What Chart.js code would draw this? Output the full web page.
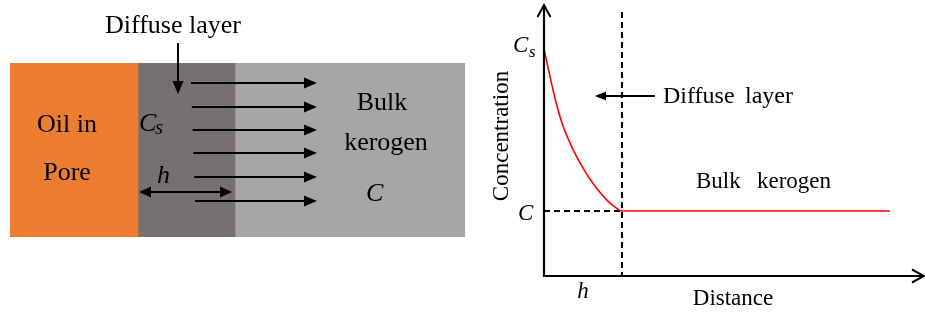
<!DOCTYPE html>
<html><head><meta charset="utf-8">
<script src="https://cdn.jsdelivr.net/npm/chart.js@4"></script>
<style>
html,body{margin:0;padding:0;background:#fff;width:925px;height:314px;overflow:hidden}
#wrapL{position:absolute;left:0;top:0;width:475px;height:314px}
#wrapR{position:absolute;left:475px;top:0;width:450px;height:314px}
</style></head><body>
<div id="wrapL"><canvas id="left"></canvas></div>
<div id="wrapR"><canvas id="right"></canvas></div>
<script>
// ---- data ----
const zoneNames = ['Oil in Pore', 'Diffuse layer', 'Bulk kerogen'];
const zoneWidths = [128, 97, 230];
const zoneColors = ['#ED7D31', '#767171', '#A6A6A6'];
const distance = [0, 0.08, 0.15, 0.24, 0.37, 0.53, 0.68, 0.82, 0.92, 1.0, 1.2, 4.44];
const concentration = [3.49, 3.05, 2.69, 2.32, 1.95, 1.6, 1.34, 1.15, 1.05, 1.0, 1.0, 1.0];
const hValue = 1.0;
const cValue = 1.0;
const csValue = 3.49;
const xMax = 4.85;
const yMax = 4.12;

const SERIF = '"Liberation Serif", "Times New Roman", serif';

function head(ctx, x, y, ang, len, half) {
  ctx.save();
  ctx.translate(x, y); ctx.rotate(ang);
  ctx.beginPath();
  ctx.moveTo(0, 0); ctx.lineTo(-len, -half); ctx.lineTo(-len, half); ctx.closePath();
  ctx.fill();
  ctx.restore();
}
function arrow(ctx, x0, y0, x1, y1, len, half, both) {
  const ang = Math.atan2(y1 - y0, x1 - x0);
  const dx = Math.cos(ang) * len * 0.8, dy = Math.sin(ang) * len * 0.8;
  ctx.beginPath();
  ctx.moveTo(both ? x0 + dx : x0, both ? y0 + dy : y0);
  ctx.lineTo(x1 - dx, y1 - dy);
  ctx.stroke();
  head(ctx, x1, y1, ang, len, half);
  if (both) head(ctx, x0, y0, ang + Math.PI, len, half);
}
function text(ctx, s, x, y, font, align) {
  ctx.font = font; ctx.textAlign = align || 'left'; ctx.textBaseline = 'alphabetic';
  ctx.fillText(s, x, y);
}

// ---- left schematic ----
const leftPlugin = {
  id: 'leftAnno',
  afterDraw(chart) {
    const ctx = chart.ctx, xs = chart.scales.x;
    const b1 = xs.getPixelForValue(zoneWidths[0]);
    const b2 = xs.getPixelForValue(zoneWidths[0] + zoneWidths[1]);
    ctx.save();
    ctx.fillStyle = '#000'; ctx.strokeStyle = '#000'; ctx.lineWidth = 2;
    text(ctx, 'Diffuse layer', 173, 33, '26px ' + SERIF, 'center');
    arrow(ctx, 178, 43, 178, 94, 13, 5.5);
    const ys = [83, 107, 130, 153, 177, 201];
    ys.forEach((y, i) => arrow(ctx, 191 + i * 0.8, y, 317, y, 13, 5.5));
    arrow(ctx, b1 + 1, 192, b2 - 3, 192, 12, 5.5, true);
    text(ctx, 'Oil in', 67, 132, '26px ' + SERIF, 'center');
    text(ctx, 'Pore', 67, 180, '26px ' + SERIF, 'center');
    text(ctx, 'C', 139, 131, 'italic 26px ' + SERIF);
    text(ctx, 's', 155, 134, 'italic 21px ' + SERIF);
    text(ctx, 'h', 157, 183, 'italic 26px ' + SERIF);
    text(ctx, 'Bulk', 382, 110, '26px ' + SERIF, 'center');
    text(ctx, 'kerogen', 386, 150, '26px ' + SERIF, 'center');
    text(ctx, 'C', 366, 201, 'italic 26px ' + SERIF);
    ctx.restore();
  }
};

new Chart(document.getElementById('left'), {
  type: 'bar',
  data: {
    labels: ['zones'],
    datasets: zoneNames.map((n, i) => ({
      label: n, data: [zoneWidths[i]], backgroundColor: zoneColors[i],
      borderWidth: 0, barPercentage: 1, categoryPercentage: 1
    }))
  },
  options: {
    indexAxis: 'y', responsive: true, maintainAspectRatio: false, animation: false,
    layout: { padding: { left: 10, right: 10, top: 63, bottom: 77 } },
    scales: {
      x: { stacked: true, display: false, min: 0, max: zoneWidths.reduce((a, b) => a + b, 0) },
      y: { stacked: true, display: false }
    },
    plugins: { legend: { display: false }, tooltip: { enabled: false } }
  },
  plugins: [leftPlugin]
});

// ---- right profile ----
const rightPlugin = {
  id: 'rightAnno',
  beforeDatasetsDraw(chart) {
    const ctx = chart.ctx, xs = chart.scales.x, ys = chart.scales.y, ca = chart.chartArea;
    const hx = xs.getPixelForValue(hValue), cy = ys.getPixelForValue(cValue);
    ctx.save();
    ctx.strokeStyle = '#000'; ctx.lineWidth = 2; ctx.setLineDash([6, 4]);
    ctx.beginPath(); ctx.moveTo(hx, ca.top + 4); ctx.lineTo(hx, ca.bottom); ctx.stroke();
    ctx.beginPath(); ctx.moveTo(ca.left, cy); ctx.lineTo(hx, cy); ctx.stroke();
    ctx.restore();
  },
  afterDatasetsDraw(chart) {
    const ctx = chart.ctx, xs = chart.scales.x, ys = chart.scales.y, ca = chart.chartArea;
    const x0 = ca.left, y0 = ca.bottom;
    ctx.save();
    ctx.strokeStyle = '#000'; ctx.fillStyle = '#000'; ctx.lineWidth = 2.2; ctx.lineCap = 'butt';
    // axes
    ctx.beginPath(); ctx.moveTo(x0, y0 + 1); ctx.lineTo(x0, ca.top - 3); ctx.stroke();
    ctx.beginPath(); ctx.moveTo(x0 - 1, y0); ctx.lineTo(ca.right + 2, y0); ctx.stroke();
    ctx.lineWidth = 2;
    ctx.beginPath(); ctx.moveTo(x0 - 6.5, ca.top + 9); ctx.lineTo(x0, ca.top - 3); ctx.lineTo(x0 + 6.5, ca.top + 9); ctx.stroke();
    ctx.beginPath(); ctx.moveTo(ca.right - 10, y0 - 6.5); ctx.lineTo(ca.right + 2, y0); ctx.lineTo(ca.right - 10, y0 + 6.5); ctx.stroke();
    // labels
    const csy = ys.getPixelForValue(csValue), cy = ys.getPixelForValue(cValue), hx = xs.getPixelForValue(hValue);
    text(ctx, 'C', x0 - 31, csy + 3, 'italic 23px ' + SERIF);
    text(ctx, 's', x0 - 15, csy + 8, 'italic 17px ' + SERIF);
    text(ctx, 'C', x0 - 26, cy + 9, 'italic 23px ' + SERIF);
    text(ctx, 'h', (x0 + hx) / 2, y0 + 22, 'italic 23px ' + SERIF, 'center');
    text(ctx, 'Distance', 258, y0 + 29, '23px ' + SERIF, 'center');
    text(ctx, 'Diffuse', 188, 103, '24px ' + SERIF, 'left');
    text(ctx, 'layer', 318, 103, '24px ' + SERIF, 'right');
    ctx.lineWidth = 2;
    arrow(ctx, 180, 96, 120, 96, 11, 4.5);
    text(ctx, 'Bulk', 221, 188, '23px ' + SERIF, 'left');
    text(ctx, 'kerogen', 356, 188, '23px ' + SERIF, 'right');
    ctx.save();
    ctx.translate(33, 136); ctx.rotate(-Math.PI / 2);
    text(ctx, 'Concentration', 0, 0, '23px ' + SERIF, 'center');
    ctx.restore();
    ctx.restore();
  }
};

new Chart(document.getElementById('right'), {
  type: 'line',
  data: {
    datasets: [{
      label: 'Concentration',
      data: distance.map((d, i) => ({ x: d, y: concentration[i] })),
      borderColor: '#FF0000', borderWidth: 1.6, pointRadius: 0, fill: false,
      cubicInterpolationMode: 'monotone'
    }]
  },
  options: {
    responsive: true, maintainAspectRatio: false, animation: false,
    layout: { padding: { left: 69, right: 3, top: 8, bottom: 38 } },
    scales: {
      x: { type: 'linear', display: false, min: 0, max: xMax },
      y: { type: 'linear', display: false, min: 0, max: yMax }
    },
    plugins: { legend: { display: false }, tooltip: { enabled: false } }
  },
  plugins: [rightPlugin]
});
</script>
</body></html>
